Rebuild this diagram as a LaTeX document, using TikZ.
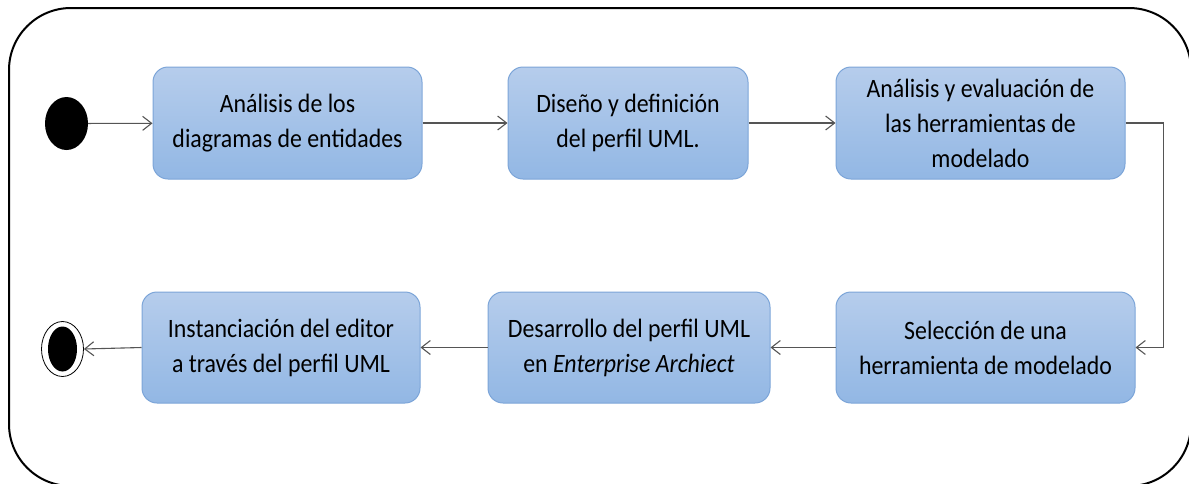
\documentclass[tikz,border=0pt]{standalone}
\usepackage{fontspec}
\setmainfont{Carlito}[FakeStretch=0.9]
\usetikzlibrary{arrows.meta,shapes.geometric}
\definecolor{boxtop}{RGB}{182,205,236}
\definecolor{boxbot}{RGB}{146,183,228}
\definecolor{boxline}{RGB}{124,165,216}
\definecolor{flow}{RGB}{85,85,85}
\tikzset{
  activity/.style={draw=boxline, line width=1pt, rounded corners=15pt,
    top color=boxtop, bottom color=boxbot, align=center,
    font=\fontsize{26.5}{35}\selectfont, inner sep=0pt},
  flowarrow/.style={draw=flow, line width=1.1pt,
    -{Straight Barb[length=9pt,width=14pt]}},
  initial/.style={ellipse, fill=black, minimum width=43pt, minimum height=53pt, inner sep=0pt},
  finalring/.style={ellipse, draw=black, line width=0.8pt, fill=white,
    minimum width=42pt, minimum height=55pt, inner sep=0pt},
  finaldot/.style={ellipse, fill=black, minimum width=29pt, minimum height=45pt, inner sep=0pt},
}
\begin{document}
\begin{tikzpicture}[x=1pt,y=-1pt]
\useasboundingbox (0,0) rectangle (1189,483);
\begin{scope}
\clip (0,0) rectangle (1189,483);
\draw[line width=2pt, rounded corners=62pt] (9,8) rectangle (1191,486);
\end{scope}

% start and end states
\node[initial] (start) at (66.5,123.5) {};
\node[finalring] (endring) at (62.5,349) {};
\node[finaldot] (enddot) at (62.5,349) {};

% top row
\node[activity, minimum width=269pt, minimum height=112pt] (b1) at (287.5,123)
  {Análisis de los\\diagramas de entidades};
\node[activity, minimum width=240pt, minimum height=112pt] (b2) at (628,123)
  {Diseño y definición\\del perfil UML.};
\node[activity, minimum width=289pt, minimum height=112pt] (b3) at (980.5,123)
  {Análisis y evaluación de\\las herramientas de\\modelado};

% bottom row
\node[activity, minimum width=299pt, minimum height=111pt] (b4) at (985.5,347.5)
  {Selección de una\\herramienta de modelado};
\node[activity, minimum width=282pt, minimum height=111pt] (b5) at (629,347.5)
  {Desarrollo del perfil UML\\en \textit{Enterprise Archiect}};
\node[activity, minimum width=278pt, minimum height=111pt] (b6) at (281,347.5)
  {Instanciación del editor\\a través del perfil UML};

% control flow
\draw[flowarrow] (start) -- (b1);
\draw[flowarrow] (b1) -- (b2);
\draw[flowarrow] (b2) -- (b3);
\draw[flowarrow] (b3.east) -- ++(38,0) |- (b4.east);
\draw[flowarrow] (b4) -- (b5);
\draw[flowarrow] (b5) -- (b6);
\draw[flowarrow] (b6.west) -- (endring.east);
\end{tikzpicture}
\end{document}
